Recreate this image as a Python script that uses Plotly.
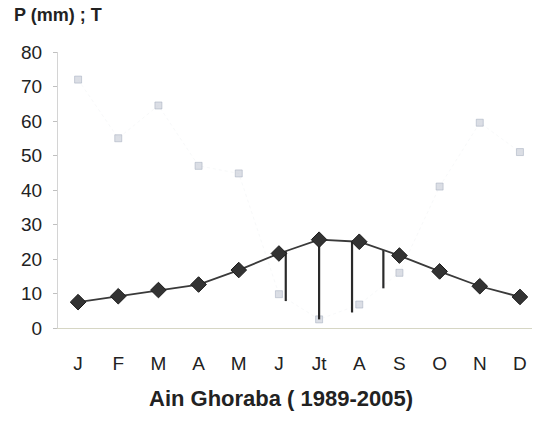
import plotly.graph_objects as go
import numpy as np

months = ["J", "F", "M", "A", "M", "J", "Jt", "A", "S", "O", "N", "D"]
temperature = [7.5, 9.2, 11.0, 12.6, 16.8, 21.6, 25.6, 25.0, 21.0, 16.4, 12.1, 9.0]
precipitation = [72, 55, 64.5, 47, 44.8, 9.8, 2.5, 6.8, 16, 41, 59.5, 51]
dry_months = [5, 6, 7, 8]
dry_offsets = [0.17, 0.0, -0.18, -0.4]
dry_bottoms = [7.8, 2.5, 4.5, 11.5]

x_idx = list(range(len(months)))

fig = go.Figure()

# precipitation (faint grey squares)
fig.add_trace(go.Scatter(
    x=x_idx, y=precipitation, mode="lines+markers",
    line=dict(color="rgba(225,227,232,0.25)", width=1, dash="dot"),
    marker=dict(symbol="square", size=7, color="rgba(195,200,212,0.6)",
                line=dict(color="rgba(160,170,188,0.5)", width=1)),
    showlegend=False, hoverinfo="skip"))

# dry-period vertical lines
for m, off, bot in zip(dry_months, dry_offsets, dry_bottoms):
    xp = m + off
    top = float(np.interp(xp, x_idx, temperature))
    fig.add_trace(go.Scatter(
        x=[xp, xp], y=[bot, top], mode="lines",
        line=dict(color="#2a2a2a", width=2.2),
        showlegend=False, hoverinfo="skip"))

# temperature line
fig.add_trace(go.Scatter(
    x=x_idx, y=temperature, mode="lines+markers",
    line=dict(color="#3a3a3a", width=1.8),
    marker=dict(symbol="diamond", size=12, color="#333333",
                line=dict(color="#1a1a1a", width=1)),
    showlegend=False, hoverinfo="skip"))

fig.update_layout(
    width=537, height=424,
    margin=dict(l=58, r=5, t=52, b=96),
    paper_bgcolor="white", plot_bgcolor="white",
    font=dict(family="Liberation Sans, Arial, sans-serif", color="#222222"),
    xaxis=dict(
        tickmode="array", tickvals=x_idx, ticktext=months,
        range=[-0.5, 11.3], showgrid=False, zeroline=False,
        showline=True, linecolor="#d6d6c4", linewidth=1.2,
        ticks="", tickfont=dict(size=19, color="#222222"),
        ticklabelstandoff=18,
    ),
    yaxis=dict(
        range=[0, 80], tickvals=[0, 10, 20, 30, 40, 50, 60, 70, 80],
        showgrid=False, zeroline=False,
        showline=True, linecolor="#d4d4d4", linewidth=1,
        ticks="outside", ticklen=4, tickcolor="#c0c0c0",
        tickfont=dict(size=19, color="#222222"),
        ticklabelstandoff=7,
    ),
    annotations=[
        dict(text="<b>P (mm) ; T</b>", xref="paper", yref="paper",
             x=-46/474, y=(328-15)/276, xanchor="left", yanchor="middle",
             showarrow=False, font=dict(size=18, color="#222222")),
        dict(text="<b>Ain Ghoraba ( 1989-2005)</b>", xref="paper", yref="paper",
             x=(281-58)/474, y=-(398-328)/276, xanchor="center", yanchor="middle",
             showarrow=False, font=dict(size=22, color="#222222")),
    ],
)

fig.write_html("out.html")
